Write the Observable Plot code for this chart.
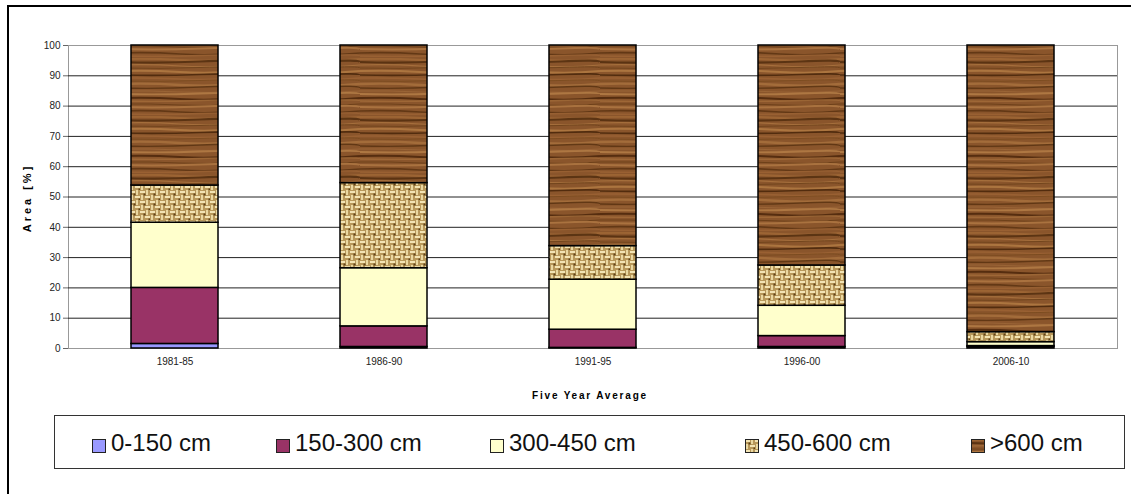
<!DOCTYPE html>
<html>
<head>
<meta charset="utf-8">
<script src="https://cdn.jsdelivr.net/npm/d3@7"></script>
<script src="https://cdn.jsdelivr.net/npm/@observablehq/plot@0.6"></script>
<style>
  html, body { margin:0; padding:0; background:#fff; overflow:hidden; width:1131px; height:494px; }
  #frame { position:absolute; left:7px; top:5px; width:1300px; height:700px; border-left:2px solid #000; border-top:2px solid #000; }
  #chart { position:absolute; left:0; top:0; }
  .ytitle { position:absolute; left:27px; top:198px; transform:translate(-50%,-50%) rotate(-90deg); font:bold 11px "Liberation Sans", Arial, sans-serif; letter-spacing:3px; white-space:nowrap; color:#000; }
  .xtitle { position:absolute; left:590px; top:395px; transform:translate(-50%,-50%); font:bold 10px "Liberation Sans", Arial, sans-serif; letter-spacing:1.8px; white-space:nowrap; color:#000; }
  #legend { position:absolute; left:54px; top:415px; width:1071px; height:54px; border:1px solid #333; box-sizing:border-box; }
  .item { position:absolute; top:0; height:54px; display:flex; align-items:center; font:24px "Liberation Sans", Arial, sans-serif; color:#111; white-space:nowrap; }
  .item svg { margin-right:5px; margin-top:5px; }
</style>
</head>
<body>
<div id="frame"></div>
<div id="chart"></div>
<div class="ytitle">Area [%]</div>
<div class="xtitle">Five Year Average</div>
<div id="legend"></div>
<script>
// ---- data ----
const periods = ["1981-85", "1986-90", "1991-95", "1996-00", "2006-10"];
const series = ["0-150 cm", "150-300 cm", "300-450 cm", "450-600 cm", ">600 cm"];
const v0_150   = [1.5, 0.5, 0.2, 0.5, 0.5];
const v150_300 = [18.5, 6.8, 6.0, 3.6, 0.3];
const v300_450 = [21.5, 19.2, 16.5, 10.0, 1.3];
const v450_600 = [12.3, 28.1, 11.1, 13.3, 3.3];
const v600     = [46.2, 45.4, 66.2, 72.6, 94.6];
const yTicks = [0, 10, 20, 30, 40, 50, 60, 70, 80, 90, 100];

const fills = ["#9999FF", "#993366", "#FFFFCC", "url(#burlap)", "url(#wood)"];
const valuesBySeries = [v0_150, v150_300, v300_450, v450_600, v600];
const rows = periods.flatMap((p, i) => series.map((s, j) => ({period: p, series: s, value: valuesBySeries[j][i]})));

const plot = Plot.plot({
  width: 1131,
  height: 410,
  marginLeft: 68,
  marginRight: 14,
  marginTop: 45,
  marginBottom: 62,
  style: {fontFamily: "'Liberation Sans', Arial, sans-serif", fontSize: "10px", color: "#222", background: "transparent"},
  x: {domain: periods, paddingInner: 0.585, paddingOuter: 0.2925},
  y: {domain: [0, 100]},
  color: {type: "ordinal", domain: series, range: fills},
  marks: [
    Plot.frame({stroke: "#999"}),
    Plot.ruleY(yTicks.slice(1, -1), {stroke: "#222", strokeWidth: 1}),
    Plot.barY(rows, {x: "period", y: "value", fill: "series", stroke: "#000", strokeWidth: 1.5}),
    Plot.axisY({ticks: yTicks, tickSize: 5, tickPadding: 3, label: null, stroke: "#666"}),
    Plot.axisX({tickSize: 0, tickPadding: 9, label: null})
  ]
});

// texture patterns (style only)
const svg = d3.select(plot);
const defs = svg.insert("defs", ":first-child");
const wood = defs.append("pattern").attr("id", "wood").attr("patternUnits", "userSpaceOnUse")
  .attr("width", 120).attr("height", 58);
wood.append("rect").attr("width", 120).attr("height", 58).attr("fill", "#8A552B");
const grain = [
  ["M0 1 Q30 0 60 2 T120 1", "#9E6634", 2],
  ["M0 4 Q40 5.5 80 3.5 T120 4", "#55300F", 2.2],
  ["M0 7 Q30 6 60 8 T120 7", "#A8713D", 1.2],
  ["M0 10 Q40 11 80 9.5 T120 10", "#6E4119", 1],
  ["M0 13 Q30 12 60 14 T120 13", "#B07942", 2],
  ["M0 17 Q40 18 80 16.5 T120 17", "#4B280B", 1.6],
  ["M0 20 Q30 19.5 60 21 T120 20", "#9A6233", 1.5],
  ["M0 23 Q40 24 80 22.5 T120 23", "#7A4A1E", 1],
  ["M0 26 Q30 25 60 27 T120 26", "#A66F3C", 2.4],
  ["M0 30 Q40 31 80 29 T120 30", "#5C3412", 1.4],
  ["M0 33 Q30 32.5 60 34 T120 33", "#9C6536", 1],
  ["M0 36 Q40 37 80 35.5 T120 36", "#B27B45", 1.8],
  ["M0 40 Q30 39 60 41 T120 40", "#50290C", 2],
  ["M0 43 Q40 44 80 42.5 T120 43", "#A06A38", 1.4],
  ["M0 46 Q30 45.5 60 47 T120 46", "#6A3D16", 1],
  ["M0 49 Q40 50 80 48.5 T120 49", "#AD7641", 2],
  ["M0 53 Q30 52 60 54 T120 53", "#5E3513", 1.6],
  ["M0 56 Q40 57 80 55.5 T120 56", "#9A6233", 1.4]
];
grain.forEach(([d, c, w]) => wood.append("path").attr("d", d).attr("fill", "none").attr("stroke", c).attr("stroke-width", w).attr("opacity", 0.9));

const burlap = defs.append("pattern").attr("id", "burlap").attr("patternUnits", "userSpaceOnUse")
  .attr("width", 10).attr("height", 10);
burlap.append("rect").attr("width", 10).attr("height", 10).attr("fill", "#B8985A");
burlap.append("rect").attr("x", 0).attr("y", 1).attr("width", 5).attr("height", 2).attr("fill", "#F3E4B4");
burlap.append("rect").attr("x", 6).attr("y", 0).attr("width", 2).attr("height", 5).attr("fill", "#EAD8A2");
burlap.append("rect").attr("x", 5).attr("y", 6).attr("width", 5).attr("height", 2).attr("fill", "#F3E4B4");
burlap.append("rect").attr("x", 1).attr("y", 5).attr("width", 2).attr("height", 5).attr("fill", "#EAD8A2");
burlap.append("rect").attr("x", 3.5).attr("y", 3.5).attr("width", 2).attr("height", 2).attr("fill", "#5E4016");
burlap.append("rect").attr("x", 8.5).attr("y", 8.5).attr("width", 2).attr("height", 2).attr("fill", "#5E4016");

document.getElementById("chart").appendChild(plot);

// legend
const legendX = [37, 221, 435, 690, 916];
const legend = document.getElementById("legend");
series.forEach((s, i) => {
  const div = document.createElement("div");
  div.className = "item";
  div.style.left = legendX[i] + "px";
  div.innerHTML = `<svg width="14" height="14"><rect x="0.5" y="0.5" width="13" height="13" fill="${fills[i]}" stroke="#222" stroke-width="1"/></svg><span>${s.replace(">", "&gt;")}</span>`;
  legend.appendChild(div);
});
</script>
</body>
</html>
